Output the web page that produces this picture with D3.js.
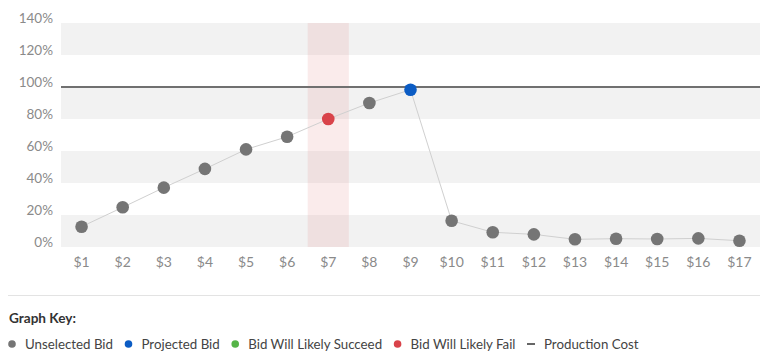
<!DOCTYPE html>
<html>
<head>
<meta charset="utf-8">
<script src="https://cdn.jsdelivr.net/npm/d3@7"></script>
<style>
  body { margin: 0; background: #fff; }
  text { font-family: Lato, "Open Sans", sans-serif; }
</style>
</head>
<body>
<div id="chart"></div>
<script>
const width = 782, height = 363;

// bid prices and chance of success (% of production cost covered)
const bids = ["$1","$2","$3","$4","$5","$6","$7","$8","$9","$10","$11","$12","$13","$14","$15","$16","$17"];
const values = [12.7, 24.8, 37.1, 48.8, 61, 68.9, 80, 90, 98.3, 16.4, 9.2, 7.9, 4.8, 5.2, 5.0, 5.4, 3.9];
const status = ["u","u","u","u","u","u","fail","u","proj","u","u","u","u","u","u","u","u"];
const yTicks = [0, 20, 40, 60, 80, 100, 120, 140];
const productionCost = 100;
const highlightBid = "$7";

const legendItems = [
  {label: "Unselected Bid", color: "#757575", type: "dot"},
  {label: "Projected Bid", color: "#0b5cc4", type: "dot"},
  {label: "Bid Will Likely Succeed", color: "#55b447", type: "dot"},
  {label: "Bid Will Likely Fail", color: "#d9434a", type: "dot"},
  {label: "Production Cost", color: "#666", type: "dash"}
];
const colors = {u: "#757575", proj: "#0b5cc4", fail: "#d9434a", ok: "#55b447"};

const svg = d3.select("#chart").append("svg")
    .attr("width", width)
    .attr("height", height);

const x = d3.scalePoint().domain(bids).range([61, 760]).padding(0.5);
const y = d3.scaleLinear().domain([0, 140]).range([247, 23]);

// alternating bands
svg.append("g")
    .selectAll("rect")
    .data([0, 40, 80, 120])
    .enter().append("rect")
    .attr("x", 61)
    .attr("width", 699)
    .attr("y", d => y(d + 20))
    .attr("height", d => y(d) - y(d + 20))
    .attr("fill", "#f2f2f2");

// highlight column
svg.append("rect")
    .attr("x", x(highlightBid) - x.step() / 2)
    .attr("width", x.step())
    .attr("y", y(140))
    .attr("height", y(0) - y(140))
    .attr("fill", "#e89a9a")
    .attr("opacity", 0.2);

// production cost
svg.append("line")
    .attr("x1", 61).attr("x2", 760)
    .attr("y1", y(productionCost)).attr("y2", y(productionCost))
    .attr("stroke", "#707070")
    .attr("stroke-width", 2);

// y labels
svg.append("g")
    .selectAll("text")
    .data(yTicks)
    .enter().append("text")
    .attr("x", 53)
    .attr("y", d => y(d) - 5)
    .attr("dy", "0.35em")
    .attr("text-anchor", "end")
    .attr("font-size", 13.5)
    .attr("fill", "#8a8a8a")
    .text(d => d + "%");

// x labels
svg.append("g")
    .selectAll("text")
    .data(bids)
    .enter().append("text")
    .attr("x", d => x(d))
    .attr("y", 262)
    .attr("dy", "0.35em")
    .attr("text-anchor", "middle")
    .attr("font-size", 14)
    .attr("fill", "#8a8a8a")
    .text(d => d);

// connecting line
const line = d3.line()
    .x((d, i) => x(bids[i]))
    .y(d => y(d));
svg.append("path")
    .datum(values)
    .attr("d", line)
    .attr("fill", "none")
    .attr("stroke", "#d0d0d0")
    .attr("stroke-width", 1);

svg.append("g")
    .selectAll("circle")
    .data(values)
    .enter().append("circle")
    .attr("cx", (d, i) => x(bids[i]))
    .attr("cy", d => y(d))
    .attr("r", 6.3)
    .attr("fill", (d, i) => colors[status[i]]);

// separator
svg.append("line")
    .attr("x1", 8).attr("x2", 760)
    .attr("y1", 295.5).attr("y2", 295.5)
    .attr("stroke", "#e3e3e3");

svg.append("text")
    .attr("x", 9)
    .attr("y", 318)
    .attr("dy", "0.35em")
    .attr("font-size", 13.6)
    .attr("font-weight", "bold")
    .attr("fill", "#333")
    .text("Graph Key:");

// legend
let lx = 12;
legendItems.forEach(item => {
    if (item.type === "dot") {
        svg.append("circle")
            .attr("cx", lx).attr("cy", 344).attr("r", 3.8)
            .attr("fill", item.color);
    } else {
        svg.append("line")
            .attr("x1", lx - 4).attr("x2", lx + 4)
            .attr("y1", 344).attr("y2", 344)
            .attr("stroke", item.color).attr("stroke-width", 2);
    }
    const t = svg.append("text")
        .attr("x", lx + 13)
        .attr("y", 344)
        .attr("dy", "0.35em")
        .attr("font-size", 13.3)
        .attr("fill", "#444")
        .text(item.label);
    lx += 13 + t.node().getComputedTextLength() + 15.5;
});
</script>
</body>
</html>
